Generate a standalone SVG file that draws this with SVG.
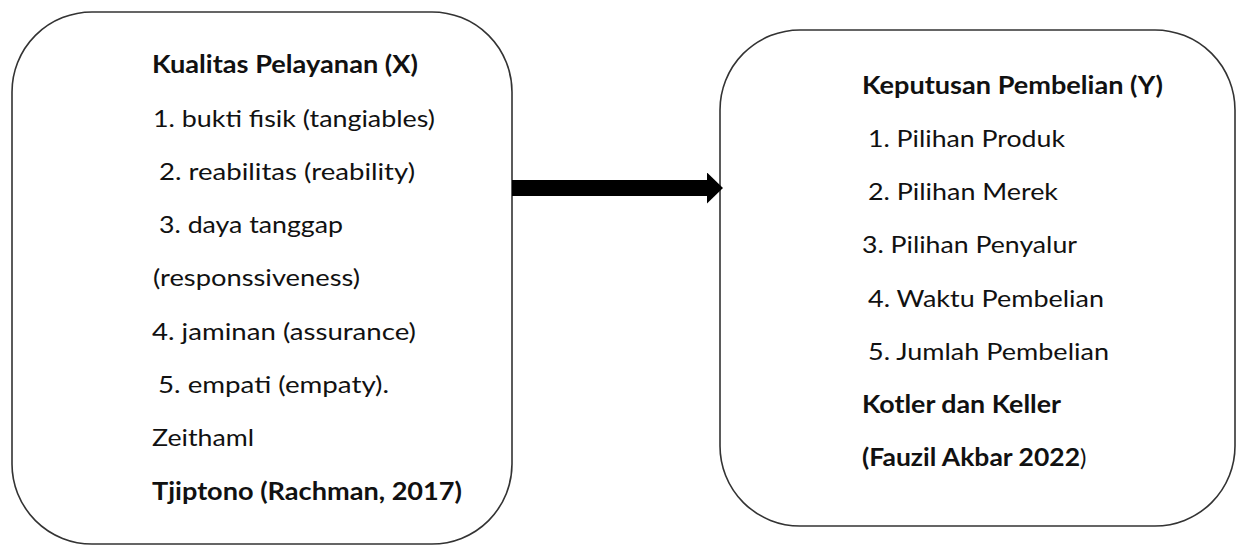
<svg xmlns="http://www.w3.org/2000/svg" width="1238" height="546" viewBox="0 0 1238 546">
<defs>
<style>
.box{fill:#ffffff;stroke:#333333;stroke-width:1.6}
.t{font-family:Lato,"Open Sans","Liberation Sans",sans-serif;font-size:24px;fill:#111111}
.b{font-weight:bold}
.conn{stroke:#000000;stroke-width:16;fill:none}
</style>
<marker id="head" markerUnits="userSpaceOnUse" markerWidth="17" markerHeight="32" refX="0" refY="15.5" orient="auto">
<path d="M0,0 L16,15.5 L0,31 Z" fill="#000000"/>
</marker>
</defs>
<rect width="1238" height="546" fill="#ffffff"/>
<g id="node-x">
<rect class="box" x="12" y="12" width="500" height="532" rx="80" ry="80"/>
<text class="t b" x="152" y="73" textLength="266" lengthAdjust="spacingAndGlyphs">Kualitas Pelayanan (X)</text>
<text class="t" x="153" y="127" textLength="282" lengthAdjust="spacingAndGlyphs">1. bukti fisik (tangiables)</text>
<text class="t" x="159" y="180" textLength="256" lengthAdjust="spacingAndGlyphs">2. reabilitas (reability)</text>
<text class="t" x="159" y="233" textLength="184" lengthAdjust="spacingAndGlyphs">3. daya tanggap</text>
<text class="t" x="153" y="286" textLength="207" lengthAdjust="spacingAndGlyphs">(responssiveness)</text>
<text class="t" x="152" y="340" textLength="264" lengthAdjust="spacingAndGlyphs">4. jaminan (assurance)</text>
<text class="t" x="158" y="393" textLength="231" lengthAdjust="spacingAndGlyphs">5. empati (empaty).</text>
<text class="t" x="152" y="446" textLength="102" lengthAdjust="spacingAndGlyphs">Zeithaml</text>
<text class="t b" x="152" y="500" textLength="310" lengthAdjust="spacingAndGlyphs">Tjiptono (Rachman, 2017)</text>
</g>
<g id="node-y">
<rect class="box" x="720" y="30" width="515" height="496" rx="80" ry="80"/>
<text class="t b" x="862" y="94" textLength="301" lengthAdjust="spacingAndGlyphs">Keputusan Pembelian (Y)</text>
<text class="t" x="868" y="147" textLength="197" lengthAdjust="spacingAndGlyphs">1. Pilihan Produk</text>
<text class="t" x="868" y="200" textLength="190" lengthAdjust="spacingAndGlyphs">2. Pilihan Merek</text>
<text class="t" x="862" y="253" textLength="215" lengthAdjust="spacingAndGlyphs">3. Pilihan Penyalur</text>
<text class="t" x="868" y="307" textLength="236" lengthAdjust="spacingAndGlyphs">4. Waktu Pembelian</text>
<text class="t" x="868" y="360" textLength="241" lengthAdjust="spacingAndGlyphs">5. Jumlah Pembelian</text>
<text class="t b" x="862" y="413" textLength="199" lengthAdjust="spacingAndGlyphs">Kotler dan Keller</text>
<text class="t" x="862" y="466"><tspan class="b" textLength="218" lengthAdjust="spacingAndGlyphs">(Fauzil Akbar 2022</tspan><tspan>)</tspan></text>
</g>
<g id="connectors">
<path class="conn" d="M512,188 L707,188" marker-end="url(#head)"/>
</g>
</svg>
